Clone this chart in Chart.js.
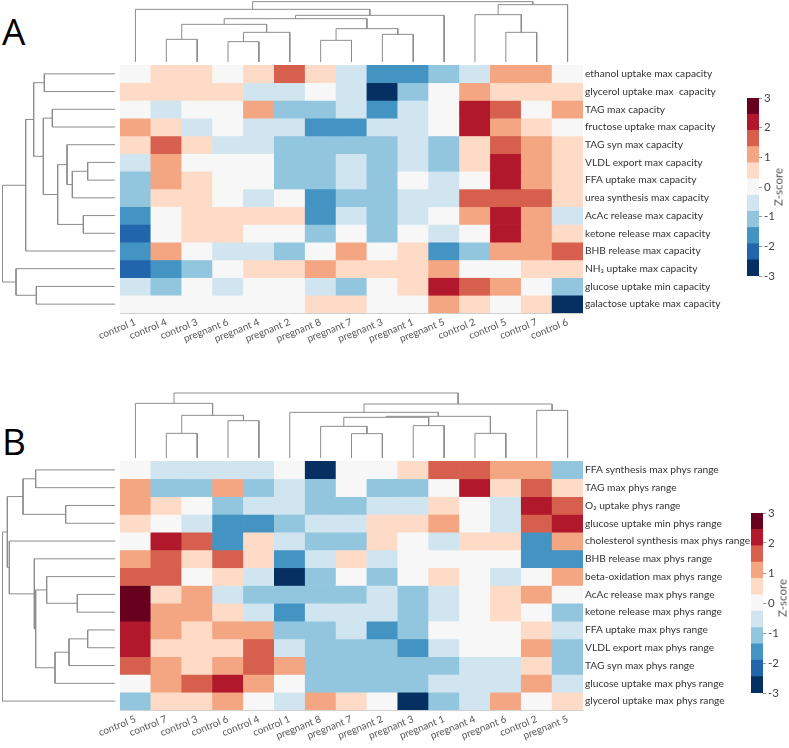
<!DOCTYPE html>
<html>
<head>
<meta charset="utf-8">
<title>Z-score heatmaps</title>
<script src="https://cdn.jsdelivr.net/npm/chart.js@4.4.1/dist/chart.umd.min.js"></script>
<style>
    html, body { margin: 0; padding: 0; background: #fff; }
    body { width: 789px; height: 748px; position: relative; overflow: hidden; font-family: "Open Sans", sans-serif; }
    canvas, .txt { position: absolute; }
    .panel { font-size: 37px; line-height: 1; color: #000; }
    .ztitle { font-family: Lato, sans-serif; font-size: 11.5px; font-weight: 400; color: #555; white-space: nowrap;
        transform: translate(-50%, -50%) rotate(-90deg); }
</style>
</head>
<body>
<div class="txt panel" style="left:2px; top:12px;">A</div>
<div class="txt panel" style="left:2px; top:422px;">B</div>

<canvas id="topA" width="463" height="62" style="left:120px; top:0px;"></canvas>
<canvas id="leftA" width="113" height="248" style="left:2px; top:65px;"></canvas>
<canvas id="heatA" width="729" height="330" style="left:60px; top:50px;"></canvas>
<canvas id="barA" width="49" height="200" style="left:740px; top:88px;"></canvas>
<div class="txt ztitle" style="left:778px; top:187px;">Z-score</div>

<canvas id="topB" width="463" height="67" style="left:120px; top:391px;"></canvas>
<canvas id="leftB" width="113" height="249" style="left:2px; top:461px;"></canvas>
<canvas id="heatB" width="729" height="302" style="left:60px; top:446px;"></canvas>
<canvas id="barB" width="45" height="200" style="left:744px; top:503px;"></canvas>
<div class="txt ztitle" style="left:782px; top:598px;">Z-score</div>

<script>
"use strict";

// ---- panel A ----
const colsA = ["control 1", "control 4", "control 3", "pregnant 6", "pregnant 4", "pregnant 2", "pregnant 8",
    "pregnant 7", "pregnant 3", "pregnant 1", "pregnant 5", "control 2", "control 5", "control 7", "control 6"];
const rowsA = ["ethanol uptake max capacity", "glycerol uptake max  capacity", "TAG max capacity",
    "fructose uptake max capacity", "TAG syn max capacity", "VLDL export max capacity", "FFA uptake max capacity",
    "urea synthesis max capacity", "AcAc release max capacity", "ketone release max capacity",
    "BHB release max capacity", "NH\u2083 uptake max capacity", "glucose uptake min capacity",
    "galactose uptake max capacity"];
const zA = [
    [0, .5, .5, 0, .5, 1.5, .5, -.5, -1.5, -1.5, -1, -.5, 1, 1, 0],
    [.5, .5, .5, .5, -.5, -.5, 0, -.5, -2.5, -1, 0, 1, .5, .5, .5],
    [0, -.5, 0, 0, 1, -1, -1, -.5, -1.5, -.5, 0, 2, 1.5, 0, 1],
    [1, .5, -.5, 0, -.5, -.5, -1.5, -1.5, -.5, -.5, 0, 2, 1, .5, 0],
    [.5, 1.5, .5, -.5, -.5, -1, -1, -1, -1, -.5, -1, .5, 1.5, 1, .5],
    [-.5, 1, 0, 0, 0, -1, -1, -.5, -1, -.5, -1, .5, 2, 1, .5],
    [-1, 1, .5, 0, 0, -1, -1, -.5, -1, 0, -.5, 0, 2, 1, .5],
    [-1, .5, .5, 0, -.5, 0, -1.5, -1, -1, -.5, -.5, 1.5, 1.5, 1.5, .5],
    [-1.5, 0, .5, .5, .5, .5, -1.5, -.5, -1, -.5, 0, 1, 2, 1, -.5],
    [-2, 0, .5, .5, 0, 0, -1, 0, -1, 0, -.5, 0, 2, 1, .5],
    [-1.5, 1, 0, -.5, -.5, -1, 0, 1, 0, .5, -1.5, -1, 1, 1, 1.5],
    [-2, -1.5, -1, 0, .5, .5, 1, .5, .5, .5, 1, 0, 0, .5, .5],
    [-.5, -1, 0, -.5, 0, 0, -.5, -1, 0, .5, 2, 1.5, 1, 0, -1],
    [0, 0, 0, 0, 0, 0, .5, .5, 0, 0, 1, .5, 0, .5, -2.5]
];
// linkage: [child a, child b, height]; ids >= n are earlier merges
const treeColsA = [
    [3, 4, 61], [6, 7, 65], [1, 2, 68], [8, 9, 83], [15, 5, 89], [12, 13, 89], [16, 18, 100],
    [17, 19, 113], [22, 21, 130], [23, 10, 140], [11, 20, 142], [0, 24, 158], [25, 14, 172], [26, 27, 181]
];
const treeRowsA = [
    [5, 6, 82], [8, 9, 95], [14, 7, 128], [4, 16, 144], [17, 15, 172], [2, 3, 188], [0, 1, 212],
    [19, 18, 215], [12, 13, 236], [20, 21, 244], [23, 10, 268], [11, 22, 297], [24, 25, 338]
];

// ---- panel B ----
const colsB = ["control 5", "control 7", "control 3", "control 6", "control 4", "control 1", "pregnant 8",
    "pregnant 7", "pregnant 2", "pregnant 3", "pregnant 1", "pregnant 4", "pregnant 6", "control 2", "pregnant 5"];
const rowsB = ["FFA synthesis max phys range", "TAG max phys range", "O\u2082 uptake phys range",
    "glucose uptake min phys range", "cholesterol synthesis max phys range", "BHB release max phys range",
    "beta-oxidation max phys range", "AcAc release max phys range", "ketone release max phys range",
    "FFA uptake max phys range", "VLDL export max phys range", "TAG syn max phys range",
    "glucose uptake max phys range", "glycerol uptake max phys range"];
const zB = [
    [0, -.5, -.5, -.5, -.5, 0, -2.5, 0, 0, .5, 1.5, 1.5, 1, 1, -1],
    [1, -1, -1, 1, -1, -.5, -1, 0, -1, -1, 0, 2, .5, 1.5, .5],
    [1, .5, 0, -1, -.5, -.5, -1, -1, -.5, -.5, .5, 0, -.5, 2, 1.5],
    [.5, 0, -.5, -1.5, -1.5, -1, -.5, -.5, .5, .5, 1, 0, -.5, 1.5, 2],
    [0, 2, 1.5, -1.5, .5, -.5, -1, -1, .5, 0, -.5, .5, .5, -1.5, 1],
    [1, 1.5, .5, 1.5, .5, -1.5, -.5, .5, -.5, 0, 0, 0, 0, -1.5, -1.5],
    [1.5, 1.5, 0, .5, -.5, -2.5, -1, 0, -1, 0, .5, 0, -.5, 0, 1],
    [2.5, .5, 1, -.5, -1, -1, -1, -1, -.5, -1, -.5, 0, .5, 1, 0],
    [2.5, 1, 1, .5, -.5, -1.5, -.5, -.5, -.5, -1, -.5, 0, .5, 0, -1],
    [2, 1, .5, 1, 1, -1, -1, -.5, -1.5, -1, 0, 0, 0, .5, -.5],
    [2, .5, .5, .5, 1.5, -.5, -1, -1, -1, -1.5, -.5, 0, 0, 1, -1],
    [1.5, 1, .5, 1, 1.5, 1, -1, -1, -1, -1, -1, -.5, -.5, .5, -1],
    [0, 1, 1.5, 2, 1, 0, -1, -1, -1, -1, -.5, -.5, -.5, 1, -.5],
    [-1, .5, .5, 1, 0, -.5, 1, .5, 0, -2.5, -1, -.5, 1, 0, .5]
];
const treeColsB = [
    [7, 8, 73], [1, 2, 74], [11, 12, 74], [6, 15, 95], [9, 10, 97], [3, 4, 112], [18, 19, 122],
    [21, 17, 125], [16, 20, 128], [5, 22, 137], [13, 14, 143], [24, 25, 162], [0, 23, 164], [27, 26, 195]
];
const treeRowsB = [
    [9, 10, 82], [7, 8, 113], [14, 11, 138], [2, 3, 148], [16, 12, 180], [6, 15, 205], [0, 1, 238],
    [19, 18, 238], [5, 21, 242], [20, 17, 276], [4, 22, 317], [23, 24, 323], [25, 13, 338]
];

// colour scale: 11 equal bins from -3 to 3
const zMin = -3, zMax = 3;
const binColors = ["#053061", "#2166ac", "#4393c3", "#92c5de", "#d1e5f0", "#f7f7f7",
    "#fddbc7", "#f4a582", "#d6604d", "#b2182b", "#67001f"];

const fontFam = "Lato, 'Open Sans', sans-serif";
const lineGrey = "#8c8c8c";

function zColor(v) {
    let w = (zMax - zMin) / binColors.length;
    let i = Math.floor((v - zMin) / w);
    i = Math.max(0, Math.min(binColors.length - 1, i));
    return binColors[i];
}

// turn a linkage list into U-shaped links [leafPos, height]
function dendroLinks(tree, n) {
    let pos = [], ht = [];
    for (let i = 0; i < n; i++) {
        pos.push(i);
        ht.push(0);
    }
    let links = [];
    tree.forEach(function(m) {
        let a = m[0], b = m[1], h = m[2];
        links.push([[pos[a], ht[a]], [pos[a], h], [pos[b], h], [pos[b], ht[b]]]);
        pos.push((pos[a] + pos[b]) / 2);
        ht.push(h);
    });
    return links;
}

function dendroChart(id, tree, n, onTop, hMax) {
    let datasets = dendroLinks(tree, n).map(function(l) {
        return {
            data: l.map(p => onTop ? {x: p[0], y: p[1]} : {x: p[1], y: p[0]}),
            showLine: true,
            borderColor: lineGrey,
            borderWidth: 1,
            pointRadius: 0,
            clip: false
        };
    });
    let posScale = {type: "linear", min: -0.5, max: n - 0.5, display: false};
    let hScale = {type: "linear", min: 0, max: hMax, display: false};
    let scales = onTop
        ? {x: posScale, y: hScale}
        : {x: Object.assign({}, hScale, {reverse: true}), y: Object.assign({}, posScale, {reverse: true})};
    new Chart(document.getElementById(id), {
        type: "scatter",
        data: {datasets: datasets},
        options: {
            responsive: false,
            animation: false,
            layout: {padding: 0},
            plugins: {legend: {display: false}, tooltip: {enabled: false}},
            scales: scales
        }
    });
}

function heatChart(id, cols, rows, z, xAxisH) {
    let datasets = rows.map(function(r, i) {
        return {
            label: r,
            data: cols.map(() => 1),
            backgroundColor: z[i].map(zColor),
            borderWidth: 0,
            barPercentage: 1,
            categoryPercentage: 1
        };
    });
    new Chart(document.getElementById(id), {
        type: "bar",
        data: {labels: cols, datasets: datasets},
        options: {
            responsive: false,
            animation: false,
            layout: {padding: {left: 60, top: 15, right: 0, bottom: 0}},
            plugins: {legend: {display: false}, tooltip: {enabled: false}},
            scales: {
                x: {
                    stacked: true,
                    grid: {display: false, drawTicks: false},
                    border: {color: "#cfcfcf"},
                    ticks: {autoSkip: false, maxRotation: 22, minRotation: 22, padding: 3, color: "#555",
                        font: {family: fontFam, size: 10}},
                    afterFit: function(s) { s.height = xAxisH; }
                },
                y: {
                    stacked: true,
                    min: 0,
                    max: rows.length,
                    reverse: true,
                    ticks: {display: false},
                    grid: {display: false, drawTicks: false},
                    border: {color: "#cfcfcf"},
                    afterFit: function(s) { s.width = 0; }
                },
                rowNames: {
                    axis: "y",
                    type: "category",
                    labels: rows,
                    position: "right",
                    offset: true,
                    grid: {display: false, drawTicks: false},
                    border: {display: false},
                    ticks: {autoSkip: false, padding: 2, color: "#333", font: {family: fontFam, size: 10.2}},
                    afterFit: function(s) { s.width = 206; }
                }
            }
        }
    });
}

function colorBar(id, pad, axisW) {
    let w = (zMax - zMin) / binColors.length;
    let datasets = binColors.map(function(c, i) {
        let lo = zMin + i * w;
        return {
            data: [[lo, lo + w]],
            backgroundColor: c,
            borderWidth: 0,
            grouped: false,
            barPercentage: 1,
            categoryPercentage: 1
        };
    });
    new Chart(document.getElementById(id), {
        type: "bar",
        data: {labels: [""], datasets: datasets},
        options: {
            responsive: false,
            animation: false,
            layout: {padding: pad},
            plugins: {legend: {display: false}, tooltip: {enabled: false}},
            scales: {
                x: {display: false},
                y: {
                    min: zMin,
                    max: zMax,
                    position: "right",
                    ticks: {stepSize: 1, padding: 2, color: "#444", font: {family: fontFam, size: 11.5}},
                    grid: {drawOnChartArea: false, drawTicks: true, tickLength: 3, color: "#999"},
                    border: {display: false},
                    afterFit: function(s) { s.width = axisW; }
                }
            }
        }
    });
}

document.addEventListener("DOMContentLoaded", function() {
    dendroChart("topA", treeColsA, colsA.length, true, 186);
    dendroChart("leftA", treeRowsA, rowsA.length, false, 339);
    heatChart("heatA", colsA, rowsA, zA, 67);
    colorBar("barA", {left: 7, top: 10, right: 0, bottom: 12}, 30);

    dendroChart("topB", treeColsB, colsB.length, true, 201);
    dendroChart("leftB", treeRowsB, rowsB.length, false, 339);
    heatChart("heatB", colsB, rowsB, zB, 38);
    colorBar("barB", {left: 7, top: 10, right: 0, bottom: 10}, 26);
});
</script>
</body>
</html>
